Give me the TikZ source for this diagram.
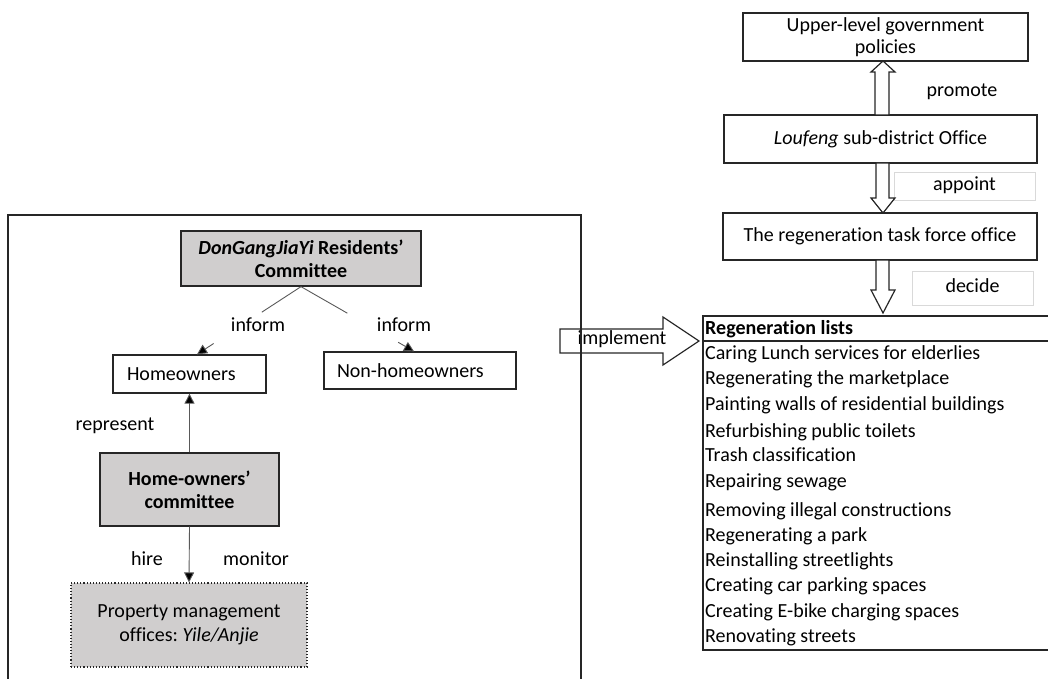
\documentclass[tikz,border=0pt]{standalone}
\usepackage{fontspec}
\setmainfont{Carlito}[Ligatures=NoCommon]
\usetikzlibrary{arrows.meta,calc}
\definecolor{boxgray}{HTML}{D0CECE}
\definecolor{lblgray}{HTML}{D9D9D9}
\definecolor{linegray}{HTML}{595959}
\frenchspacing
\begin{document}
\begin{tikzpicture}[x=1pt,y=-1pt,
  every node/.style={font=\fontsize{20}{23}\selectfont, inner sep=0pt},
  box/.style={draw=black!85, line width=1.3pt, fill=white, align=center},
  graybox/.style={box, fill=boxgray},
  dotbox/.style={draw=black!85, line width=1.1pt, dotted, fill=boxgray, align=center},
  lbl/.style={draw=lblgray, line width=0.8pt},
  lab/.style={text height=13pt, text depth=4pt},
  item/.style={anchor=west, text height=13pt, text depth=4pt},
  conn/.style={draw=linegray, line width=0.9pt},
  tip/.style={-{Triangle[length=10pt,width=10pt,fill=black]}, draw=linegray, line width=0.9pt},
  hollow/.style={draw=black!85, line width=1.2pt, fill=white, line join=miter}
]
\clip (0,0) rectangle (1048,679);

% ---- right column ----
\node[box, minimum width=285pt, minimum height=48pt, font=\fontsize{20}{22}\selectfont] (up) at (885.5,37) {Upper-level government\\policies};
\node[box, minimum width=313pt, minimum height=48pt] (lou) at (880.5,139) {\textit{Loufeng} sub-district Office};
\node[box, minimum width=314pt, minimum height=47pt] (tf) at (880,236.5) {The regeneration task force office};

\node[lab] (promote) at (962,92) {promote};
\node[lbl, lab, minimum width=141pt, minimum height=28pt] (appoint) at (964.5,186) {appoint};
\node[lbl, lab, minimum width=121pt, minimum height=34pt] (decide) at (972.5,288) {decide};

% hollow block arrows
\draw[hollow] (875,115) -- (875,72) -- (871,72) -- (883,61) -- (895,72) -- (889,72) -- (889,115) -- cycle;
\draw[hollow] (876,163) -- (876,198) -- (871,198) -- (883,213) -- (895,198) -- (889,198) -- (889,163) -- cycle;
\draw[hollow] (876,260) -- (876,290) -- (871,290) -- (883,313) -- (895,290) -- (889,290) -- (889,260) -- cycle;

% regeneration list
\draw[line width=1.3pt, draw=black!85] (1060,316) -- (703,316) -- (703,650) -- (1060,650);
\draw[line width=1.3pt, draw=black!85] (703,341) -- (1060,341);
\node[item] (hd) at (705,330) {\textbf{Regeneration lists}};
\node[item] (i1) at (705,355) {Caring Lunch services for elderlies};
\node[item] (i2) at (705,380) {Regenerating the marketplace};
\node[item] (i3) at (705,405.5) {Painting walls of residential buildings};
\node[item] (i4) at (705,432.5) {Refurbishing public toilets};
\node[item] (i5) at (705,457) {Trash classification};
\node[item] (i6) at (705,483) {Repairing sewage};
\node[item] (i7) at (705,512) {Removing illegal constructions};
\node[item] (i8) at (705,537) {Regenerating a park};
\node[item] (i9) at (705,562) {Reinstalling streetlights};
\node[item] (i10) at (705,587) {Creating car parking spaces};
\node[item] (i11) at (705,613) {Creating E-bike charging spaces};
\node[item] (i12) at (705,638) {Renovating streets};

% implement arrow
\draw[hollow, fill=none] (560,329) -- (663,329) -- (663,317) -- (699,341) -- (663,365) -- (663,353) -- (560,353) -- cycle;
\node[lab] (impl) at (622,340) {implement};

% ---- left frame ----
\draw[line width=1.3pt, draw=black!85] (8,690) -- (8,215) -- (581,215) -- (581,690);

\node[graybox, minimum width=240pt, minimum height=55pt] (dg) at (301,258.5) {\textbf{\textit{DonGangJiaYi} Residents’}\\\textbf{Committee}};
\node[box, minimum height=38pt, text width=125pt, inner xsep=14pt, align=left] (ho) at (189.5,374) {Homeowners};
\node[box, minimum height=37pt, text width=166pt, inner xsep=13pt, align=left] (non) at (420,370.5) {Non-homeowners};
\node[graybox, minimum width=179pt, minimum height=73pt] (hoc) at (189.5,489.5) {\textbf{Home-owners’}\\\textbf{committee}};
\node[dotbox, minimum width=236pt, minimum height=84pt, font=\fontsize{20}{24}\selectfont] (pm) at (189,625) {Property management\\offices: \textit{Yile/Anjie}};

\node[lab] (inf1) at (258,327) {inform};
\node[lab] (inf2) at (404,327) {inform};
\node[lab] (rep) at (115,426) {represent};
\node[lab] (hire) at (147,561) {hire};
\node[lab] (mon) at (256,561) {monitor};

\coordinate (hoT) at ([xshift=7.5pt]ho.north);
\coordinate (nonT) at ([xshift=-6pt]non.north);
\draw[conn] (dg.south) -- ($(dg.south)!0.377!(hoT)$);
\draw[tip] ($(dg.south)!0.84!(hoT)$) -- (hoT);
\draw[conn] (dg.south) -- ($(dg.south)!0.41!(nonT)$);
\draw[tip] ($(dg.south)!0.86!(nonT)$) -- (nonT);

\draw[tip] (hoc.north) -- (ho.south);
\draw[tip] (hoc.south) -- (pm.north);
\end{tikzpicture}
\end{document}
